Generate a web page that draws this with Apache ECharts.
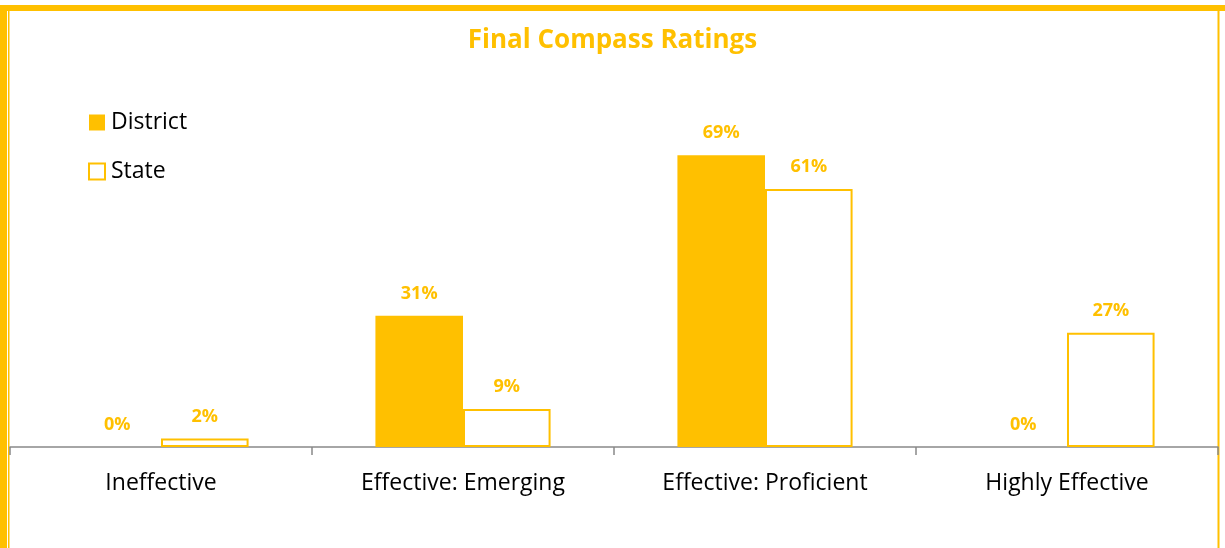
<!DOCTYPE html>
<html><head><meta charset="utf-8">
<script src="https://cdn.jsdelivr.net/npm/echarts@6/dist/echarts.min.js"></script>
<style>html,body{margin:0;padding:0;background:#fff}#c{width:1225px;height:548px}</style>
</head><body><div id="c"></div>
<script>
var categories = ['Ineffective', 'Effective: Emerging', 'Effective: Proficient', 'Highly Effective'];
var districtValues = [0, 31, 69, 0];
var stateValues = [2, 9, 61, 27];
var GOLD = '#FFC000';
var FONT = '"Open Sans", "Noto Sans", sans-serif';
var chart = echarts.init(document.getElementById('c'));
var lbl = {show: true, position: 'top', distance: 13, color: GOLD, fontWeight: 'bold', fontSize: 18, fontFamily: FONT, formatter: '{c}%'};
chart.setOption({
  animation: false,
  title: {text: 'Final Compass Ratings', left: 'center', top: 23,
    textStyle: {color: GOLD, fontSize: 26, fontWeight: 'bold', fontFamily: FONT}},
  legend: {orient: 'vertical', left: 83, top: 106, itemWidth: 16, itemHeight: 16, itemGap: 26,
    icon: 'rect',
    textStyle: {fontSize: 23, color: '#000', fontFamily: FONT, padding: [0, 0, 0, 1]},
    data: ['District', 'State']},
  grid: {left: 10, right: 7, top: 108.6, bottom: 101, containLabel: false},
  xAxis: {type: 'category', data: categories,
    axisLine: {lineStyle: {color: '#898989', width: 1.5}},
    axisTick: {show: true, length: 8, lineStyle: {color: '#898989', width: 1.5}},
    axisLabel: {color: '#000', fontSize: 23, fontFamily: FONT, margin: 25}},
  yAxis: {type: 'value', min: 0, max: 80, show: false, splitLine: {show: false}},
  series: [
    {name: 'District', type: 'bar', data: districtValues, barGap: '0%', barCategoryGap: '42%',
      itemStyle: {color: GOLD}, label: lbl},
    {name: 'State', type: 'bar', data: stateValues,
      itemStyle: {color: '#fff', borderColor: GOLD, borderWidth: 2}, label: lbl}
  ],
  graphic: [
    {type: 'rect', shape: {x: 0, y: 5, width: 1225, height: 6}, style: {fill: GOLD}, silent: true},
    {type: 'rect', shape: {x: 0, y: 5, width: 7, height: 543}, style: {fill: GOLD}, silent: true},
    {type: 'rect', shape: {x: 8, y: 11, width: 1.5, height: 537}, style: {fill: GOLD}, silent: true},
    {type: 'rect', shape: {x: 1217.5, y: 11, width: 2, height: 537}, style: {fill: GOLD}, silent: true}
  ]
});
</script></body></html>
